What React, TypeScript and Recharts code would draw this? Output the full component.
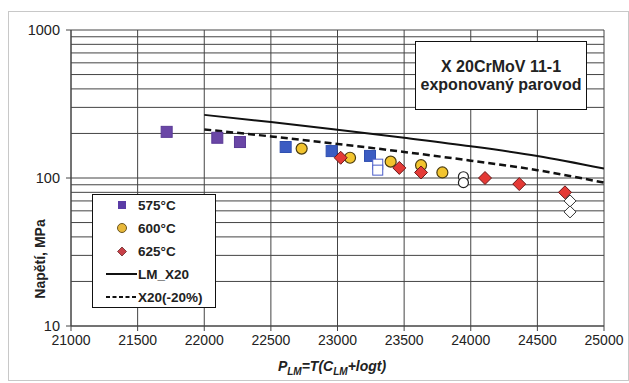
import React from "react";
import {
  ComposedChart,
  CartesianGrid,
  XAxis,
  YAxis,
  Scatter,
  Line,
} from "recharts";

type Pt = { x: number; y: number };

// 575°C
const sq575a: Pt[] = [
  { x: 21718, y: 205 },
  { x: 22098, y: 187 },
  { x: 22268, y: 175 },
];
const sq575b: Pt[] = [
  { x: 22611, y: 162 },
  { x: 22956, y: 152 },
  { x: 23244, y: 141 },
];
const sq575open: Pt[] = [
  { x: 23302, y: 124 },
  { x: 23302, y: 113 },
];
// 600°C
const c600: Pt[] = [
  { x: 22731, y: 158 },
  { x: 23094, y: 137 },
  { x: 23399, y: 129 },
  { x: 23627, y: 122 },
  { x: 23787, y: 109 },
];
const c600open: Pt[] = [
  { x: 23945, y: 102 },
  { x: 23945, y: 93 },
];
// 625°C
const d625: Pt[] = [
  { x: 23024, y: 137 },
  { x: 23464, y: 117 },
  { x: 23627, y: 109 },
  { x: 24107, y: 100 },
  { x: 24364, y: 91 },
  { x: 24707, y: 80 },
];
const d625open: Pt[] = [
  { x: 24745, y: 70 },
  { x: 24745, y: 59 },
];
// curves
const lmX20: Pt[] = [
  { x: 22000, y: 267 },
  { x: 22500, y: 239 },
  { x: 23000, y: 212 },
  { x: 23500, y: 187 },
  { x: 24000, y: 164 },
  { x: 24500, y: 141 },
  { x: 25000, y: 116 },
];
const x20minus20: Pt[] = [
  { x: 22000, y: 213 },
  { x: 22500, y: 191 },
  { x: 23000, y: 170 },
  { x: 23500, y: 150 },
  { x: 24000, y: 131 },
  { x: 24500, y: 113 },
  { x: 25000, y: 93 },
];

const xTicks = [21000, 21500, 22000, 22500, 23000, 23500, 24000, 24500, 25000];
const yTicks = [
  10, 20, 30, 40, 50, 60, 70, 80, 90, 100, 200, 300, 400, 500, 600, 700, 800,
  900, 1000,
];
const yMajor = [10, 100, 1000];

const FONT = "'Liberation Sans', Arial, sans-serif";

const Square = (fill: string, stroke: string, s: number) => (p: any) =>
  p.cx == null ? null : (
    <rect x={p.cx - s / 2} y={p.cy - s / 2} width={s} height={s} fill={fill} stroke={stroke} strokeWidth={1} />
  );
const Circle = (fill: string, stroke: string, r: number) => (p: any) =>
  p.cx == null ? null : (
    <circle cx={p.cx} cy={p.cy} r={r} fill={fill} stroke={stroke} strokeWidth={1.2} />
  );
const Diamond = (fill: string, stroke: string, r: number) => (p: any) =>
  p.cx == null ? null : (
    <polygon
      points={`${p.cx},${p.cy - r} ${p.cx + r},${p.cy} ${p.cx},${p.cy + r} ${p.cx - r},${p.cy}`}
      fill={fill}
      stroke={stroke}
      strokeWidth={1}
    />
  );

const YTick = (p: any) => {
  const v = p.payload.value;
  if (!yMajor.includes(v)) return null;
  return (
    <g>
      <line x1={p.x + 6} x2={p.x + 11} y1={p.y} y2={p.y} stroke="#444" />
      <text x={p.x} y={p.y} dy="0.355em" textAnchor="end" fontSize={14.5} fill="#222" fontFamily={FONT}>
        {v}
      </text>
    </g>
  );
};

export default function App() {
  return (
    <div style={{ position: "absolute", left: 0, top: 0, width: 629, height: 383, background: "#fff", fontFamily: FONT }}>
      <div style={{ position: "absolute", left: 8, top: 11, width: 619, height: 368, border: "1px solid #c8c8c8" }} />
      <ComposedChart width={629} height={383} margin={{ top: 30, right: 25, bottom: 27, left: 0 }}>
        <CartesianGrid stroke="#444" strokeWidth={1} />
        <XAxis
          type="number"
          dataKey="x"
          domain={[21000, 25000]}
          ticks={xTicks}
          interval={0}
          allowDataOverflow
          height={30}
          tickSize={5}
          tickMargin={4}
          stroke="#444"
          tick={{ fontSize: 14, fill: "#222", fontFamily: FONT }}
        />
        <YAxis
          type="number"
          dataKey="y"
          scale="log"
          domain={[10, 1000]}
          ticks={yTicks}
          interval={0}
          allowDataOverflow
          width={71}
          tickLine={false}
          tickMargin={11}
          tickSize={0}
          stroke="#444"
          tick={YTick}
        />
        <Line data={lmX20} dataKey="y" type="monotone" stroke="#111" strokeWidth={2} dot={false} isAnimationActive={false} />
        <Line
          data={x20minus20}
          dataKey="y"
          type="monotone"
          stroke="#111"
          strokeWidth={2.5}
          strokeDasharray="7 4"
          dot={false}
          isAnimationActive={false}
        />
        <Scatter data={sq575a} dataKey="y" shape={Square("#6a46a6", "#5a3a96", 11)} isAnimationActive={false} />
        <Scatter data={sq575b} dataKey="y" shape={Square("#3b5cc2", "#2f4fb0", 11)} isAnimationActive={false} />
        <Scatter data={sq575open} dataKey="y" shape={Square("#fff", "#4a5cc8", 10)} isAnimationActive={false} />
        <Scatter data={c600} dataKey="y" shape={Circle("#f2c42e", "#4a3c10", 5.5)} isAnimationActive={false} />
        <Scatter data={c600open} dataKey="y" shape={Circle("#fff", "#222", 5)} isAnimationActive={false} />
        <Scatter data={d625} dataKey="y" shape={Diamond("#e43a36", "#6a1a1a", 6.5)} isAnimationActive={false} />
        <Scatter data={d625open} dataKey="y" shape={Diamond("#fff", "#333", 6)} isAnimationActive={false} />
      </ComposedChart>

      {/* title box */}
      <div
        style={{
          position: "absolute",
          left: 415,
          top: 41,
          width: 170,
          height: 67,
          border: "1px solid #111",
          background: "#fff",
          display: "flex",
          flexDirection: "column",
          justifyContent: "center",
          alignItems: "center",
          fontWeight: "bold",
          fontSize: 16,
          lineHeight: "18px",
          color: "#222",
        }}
      >
        <div>X 20CrMoV 11-1</div>
        <div>exponovaný parovod</div>
      </div>

      {/* legend */}
      <div
        style={{
          position: "absolute",
          left: 92,
          top: 194,
          width: 122,
          height: 112,
          border: "1px solid #111",
          background: "#fff",
        }}
      >
        <svg width={122} height={112} style={{ position: "absolute", left: 0, top: 0 }}>
          <rect x={25} y={6} width={8} height={8} fill="#5a3ca6" />
          <circle cx={29} cy={33} r={4.5} fill="#e8b83a" stroke="#6a5520" strokeWidth={1} />
          <polygon points="29,52 33.5,56.5 29,61 24.5,56.5" fill="#c84048" stroke="#6a2a2a" strokeWidth={0.8} />
          <line x1={13} x2={44} y1={79} y2={79} stroke="#111" strokeWidth={2} />
          <line x1={13} x2={44} y1={102} y2={102} stroke="#111" strokeWidth={2} strokeDasharray="4 2.5" />
          {[
            ["575°C", 10],
            ["600°C", 33],
            ["625°C", 56],
            ["LM_X20", 79],
            ["X20(-20%)", 102],
          ].map(([t, y]) => (
            <text key={t as string} x={45} y={y as number} dy="0.36em" fontSize={13.5} fontWeight="bold" fill="#222" fontFamily={FONT}>
              {t}
            </text>
          ))}
        </svg>
      </div>

      {/* y label */}
      <div
        style={{
          position: "absolute",
          left: 40,
          top: 259,
          transform: "translate(-50%, -50%) rotate(-90deg)",
          whiteSpace: "nowrap",
          fontWeight: "bold",
          fontSize: 14,
          color: "#222",
        }}
      >
        Napětí, MPa
      </div>

      {/* x label */}
      <div
        style={{
          position: "absolute",
          left: 332,
          top: 369,
          transform: "translate(-50%, -50%)",
          whiteSpace: "nowrap",
          fontWeight: "bold",
          fontStyle: "italic",
          fontSize: 14,
          color: "#222",
          lineHeight: "16px",
        }}
      >
        P<sub style={{ fontSize: 10 }}>LM</sub>=T(C<sub style={{ fontSize: 10 }}>LM</sub>+logt)
      </div>
    </div>
  );
}
